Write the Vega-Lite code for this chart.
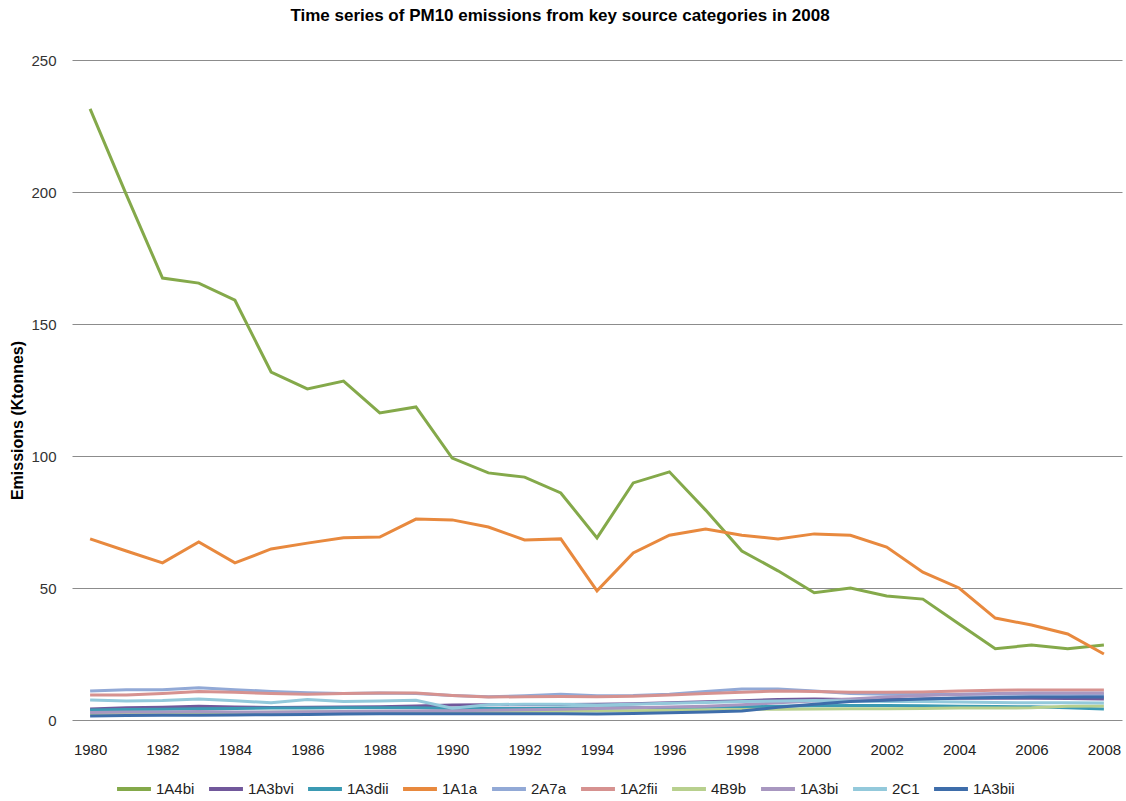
{
"$schema": "https://vega.github.io/schema/vega-lite/v6.json",
"width": 1050, "height": 660,
"autosize": {"type": "none"},
"padding": {"left": 72, "top": 60, "right": 4, "bottom": 81},
"background": "white",
"title": {"text": "Time series of PM10 emissions from key source categories in 2008", "font": "Liberation Sans", "fontSize": 17, "fontWeight": "bold", "color": "#000000", "anchor": "middle", "dx": -37, "offset": 28},
"config": {"view": {"stroke": null}, "font": "Liberation Sans"},
"datasets": {
"rows": [
{"s":"1A4bi","y":1980,"v":231.5},{"s":"1A4bi","y":1981,"v":199},{"s":"1A4bi","y":1982,"v":167.4},{"s":"1A4bi","y":1983,"v":165.5},{"s":"1A4bi","y":1984,"v":159},{"s":"1A4bi","y":1985,"v":131.8},{"s":"1A4bi","y":1986,"v":125.4},{"s":"1A4bi","y":1987,"v":128.4},{"s":"1A4bi","y":1988,"v":116.3},{"s":"1A4bi","y":1989,"v":118.6},{"s":"1A4bi","y":1990,"v":99.2},{"s":"1A4bi","y":1991,"v":93.6},{"s":"1A4bi","y":1992,"v":92},{"s":"1A4bi","y":1993,"v":86},{"s":"1A4bi","y":1994,"v":69},{"s":"1A4bi","y":1995,"v":89.8},{"s":"1A4bi","y":1996,"v":94},{"s":"1A4bi","y":1997,"v":79.5},{"s":"1A4bi","y":1998,"v":64},{"s":"1A4bi","y":1999,"v":56.5},{"s":"1A4bi","y":2000,"v":48.2},{"s":"1A4bi","y":2001,"v":50},{"s":"1A4bi","y":2002,"v":47},{"s":"1A4bi","y":2003,"v":45.8},{"s":"1A4bi","y":2004,"v":36.4},{"s":"1A4bi","y":2005,"v":27},{"s":"1A4bi","y":2006,"v":28.4},{"s":"1A4bi","y":2007,"v":27},{"s":"1A4bi","y":2008,"v":28.4},
{"s":"1A3bvi","y":1980,"v":4.2},{"s":"1A3bvi","y":1981,"v":4.6},{"s":"1A3bvi","y":1982,"v":4.8},{"s":"1A3bvi","y":1983,"v":5.2},{"s":"1A3bvi","y":1984,"v":4.9},{"s":"1A3bvi","y":1985,"v":4.7},{"s":"1A3bvi","y":1986,"v":4.8},{"s":"1A3bvi","y":1987,"v":4.9},{"s":"1A3bvi","y":1988,"v":5},{"s":"1A3bvi","y":1989,"v":5.3},{"s":"1A3bvi","y":1990,"v":5.7},{"s":"1A3bvi","y":1991,"v":5.8},{"s":"1A3bvi","y":1992,"v":5.8},{"s":"1A3bvi","y":1993,"v":5.9},{"s":"1A3bvi","y":1994,"v":6},{"s":"1A3bvi","y":1995,"v":6.2},{"s":"1A3bvi","y":1996,"v":6.5},{"s":"1A3bvi","y":1997,"v":6.9},{"s":"1A3bvi","y":1998,"v":7.3},{"s":"1A3bvi","y":1999,"v":7.8},{"s":"1A3bvi","y":2000,"v":8},{"s":"1A3bvi","y":2001,"v":7.8},{"s":"1A3bvi","y":2002,"v":7.8},{"s":"1A3bvi","y":2003,"v":8},{"s":"1A3bvi","y":2004,"v":8.2},{"s":"1A3bvi","y":2005,"v":8.2},{"s":"1A3bvi","y":2006,"v":8.2},{"s":"1A3bvi","y":2007,"v":8.1},{"s":"1A3bvi","y":2008,"v":8},
{"s":"1A3dii","y":1980,"v":3.8},{"s":"1A3dii","y":1981,"v":4},{"s":"1A3dii","y":1982,"v":4.1},{"s":"1A3dii","y":1983,"v":4.3},{"s":"1A3dii","y":1984,"v":4.4},{"s":"1A3dii","y":1985,"v":4.5},{"s":"1A3dii","y":1986,"v":4.5},{"s":"1A3dii","y":1987,"v":4.6},{"s":"1A3dii","y":1988,"v":4.6},{"s":"1A3dii","y":1989,"v":4.6},{"s":"1A3dii","y":1990,"v":4.4},{"s":"1A3dii","y":1991,"v":4.4},{"s":"1A3dii","y":1992,"v":4.4},{"s":"1A3dii","y":1993,"v":4.5},{"s":"1A3dii","y":1994,"v":4.5},{"s":"1A3dii","y":1995,"v":4.6},{"s":"1A3dii","y":1996,"v":4.7},{"s":"1A3dii","y":1997,"v":4.8},{"s":"1A3dii","y":1998,"v":5},{"s":"1A3dii","y":1999,"v":5.2},{"s":"1A3dii","y":2000,"v":5.4},{"s":"1A3dii","y":2001,"v":5.5},{"s":"1A3dii","y":2002,"v":5.5},{"s":"1A3dii","y":2003,"v":5.4},{"s":"1A3dii","y":2004,"v":5.2},{"s":"1A3dii","y":2005,"v":5.1},{"s":"1A3dii","y":2006,"v":5},{"s":"1A3dii","y":2007,"v":4.6},{"s":"1A3dii","y":2008,"v":4.2},
{"s":"1A1a","y":1980,"v":68.6},{"s":"1A1a","y":1981,"v":64},{"s":"1A1a","y":1982,"v":59.5},{"s":"1A1a","y":1983,"v":67.4},{"s":"1A1a","y":1984,"v":59.5},{"s":"1A1a","y":1985,"v":64.8},{"s":"1A1a","y":1986,"v":67},{"s":"1A1a","y":1987,"v":69},{"s":"1A1a","y":1988,"v":69.3},{"s":"1A1a","y":1989,"v":76.1},{"s":"1A1a","y":1990,"v":75.8},{"s":"1A1a","y":1991,"v":73.1},{"s":"1A1a","y":1992,"v":68.2},{"s":"1A1a","y":1993,"v":68.6},{"s":"1A1a","y":1994,"v":48.9},{"s":"1A1a","y":1995,"v":63.3},{"s":"1A1a","y":1996,"v":70},{"s":"1A1a","y":1997,"v":72.3},{"s":"1A1a","y":1998,"v":70},{"s":"1A1a","y":1999,"v":68.6},{"s":"1A1a","y":2000,"v":70.5},{"s":"1A1a","y":2001,"v":70},{"s":"1A1a","y":2002,"v":65.5},{"s":"1A1a","y":2003,"v":56},{"s":"1A1a","y":2004,"v":50},{"s":"1A1a","y":2005,"v":38.6},{"s":"1A1a","y":2006,"v":36},{"s":"1A1a","y":2007,"v":32.6},{"s":"1A1a","y":2008,"v":25},
{"s":"2A7a","y":1980,"v":11},{"s":"2A7a","y":1981,"v":11.5},{"s":"2A7a","y":1982,"v":11.5},{"s":"2A7a","y":1983,"v":12.2},{"s":"2A7a","y":1984,"v":11.5},{"s":"2A7a","y":1985,"v":10.8},{"s":"2A7a","y":1986,"v":10.3},{"s":"2A7a","y":1987,"v":10},{"s":"2A7a","y":1988,"v":10.2},{"s":"2A7a","y":1989,"v":10},{"s":"2A7a","y":1990,"v":9.3},{"s":"2A7a","y":1991,"v":8.8},{"s":"2A7a","y":1992,"v":9.2},{"s":"2A7a","y":1993,"v":9.8},{"s":"2A7a","y":1994,"v":9.2},{"s":"2A7a","y":1995,"v":9.3},{"s":"2A7a","y":1996,"v":9.8},{"s":"2A7a","y":1997,"v":10.8},{"s":"2A7a","y":1998,"v":11.7},{"s":"2A7a","y":1999,"v":11.7},{"s":"2A7a","y":2000,"v":11},{"s":"2A7a","y":2001,"v":10},{"s":"2A7a","y":2002,"v":9.8},{"s":"2A7a","y":2003,"v":9.8},{"s":"2A7a","y":2004,"v":9.8},{"s":"2A7a","y":2005,"v":9.8},{"s":"2A7a","y":2006,"v":9.8},{"s":"2A7a","y":2007,"v":9.8},{"s":"2A7a","y":2008,"v":9.6},
{"s":"1A2fii","y":1980,"v":9.5},{"s":"1A2fii","y":1981,"v":9.5},{"s":"1A2fii","y":1982,"v":10},{"s":"1A2fii","y":1983,"v":10.8},{"s":"1A2fii","y":1984,"v":10.5},{"s":"1A2fii","y":1985,"v":10},{"s":"1A2fii","y":1986,"v":9.8},{"s":"1A2fii","y":1987,"v":10},{"s":"1A2fii","y":1988,"v":10.2},{"s":"1A2fii","y":1989,"v":10.2},{"s":"1A2fii","y":1990,"v":9.3},{"s":"1A2fii","y":1991,"v":8.7},{"s":"1A2fii","y":1992,"v":8.8},{"s":"1A2fii","y":1993,"v":8.9},{"s":"1A2fii","y":1994,"v":8.8},{"s":"1A2fii","y":1995,"v":9},{"s":"1A2fii","y":1996,"v":9.5},{"s":"1A2fii","y":1997,"v":10},{"s":"1A2fii","y":1998,"v":10.5},{"s":"1A2fii","y":1999,"v":11},{"s":"1A2fii","y":2000,"v":10.8},{"s":"1A2fii","y":2001,"v":10.5},{"s":"1A2fii","y":2002,"v":10.5},{"s":"1A2fii","y":2003,"v":10.6},{"s":"1A2fii","y":2004,"v":11},{"s":"1A2fii","y":2005,"v":11.3},{"s":"1A2fii","y":2006,"v":11.4},{"s":"1A2fii","y":2007,"v":11.4},{"s":"1A2fii","y":2008,"v":11.4},
{"s":"4B9b","y":1980,"v":2.5},{"s":"4B9b","y":1981,"v":2.6},{"s":"4B9b","y":1982,"v":2.7},{"s":"4B9b","y":1983,"v":2.8},{"s":"4B9b","y":1984,"v":2.8},{"s":"4B9b","y":1985,"v":2.9},{"s":"4B9b","y":1986,"v":3},{"s":"4B9b","y":1987,"v":3},{"s":"4B9b","y":1988,"v":3.1},{"s":"4B9b","y":1989,"v":3.1},{"s":"4B9b","y":1990,"v":3.1},{"s":"4B9b","y":1991,"v":3.2},{"s":"4B9b","y":1992,"v":3.2},{"s":"4B9b","y":1993,"v":3.3},{"s":"4B9b","y":1994,"v":3.4},{"s":"4B9b","y":1995,"v":3.5},{"s":"4B9b","y":1996,"v":3.7},{"s":"4B9b","y":1997,"v":3.8},{"s":"4B9b","y":1998,"v":4},{"s":"4B9b","y":1999,"v":4.1},{"s":"4B9b","y":2000,"v":4.2},{"s":"4B9b","y":2001,"v":4.3},{"s":"4B9b","y":2002,"v":4.3},{"s":"4B9b","y":2003,"v":4.4},{"s":"4B9b","y":2004,"v":4.5},{"s":"4B9b","y":2005,"v":4.5},{"s":"4B9b","y":2006,"v":4.6},{"s":"4B9b","y":2007,"v":5.2},{"s":"4B9b","y":2008,"v":5.3},
{"s":"1A3bi","y":1980,"v":2.8},{"s":"1A3bi","y":1981,"v":3},{"s":"1A3bi","y":1982,"v":3},{"s":"1A3bi","y":1983,"v":3.2},{"s":"1A3bi","y":1984,"v":3},{"s":"1A3bi","y":1985,"v":3},{"s":"1A3bi","y":1986,"v":3.1},{"s":"1A3bi","y":1987,"v":3.2},{"s":"1A3bi","y":1988,"v":3.3},{"s":"1A3bi","y":1989,"v":3.4},{"s":"1A3bi","y":1990,"v":3.5},{"s":"1A3bi","y":1991,"v":3.7},{"s":"1A3bi","y":1992,"v":3.9},{"s":"1A3bi","y":1993,"v":4.1},{"s":"1A3bi","y":1994,"v":4.4},{"s":"1A3bi","y":1995,"v":4.6},{"s":"1A3bi","y":1996,"v":4.9},{"s":"1A3bi","y":1997,"v":5.2},{"s":"1A3bi","y":1998,"v":5.8},{"s":"1A3bi","y":1999,"v":6.5},{"s":"1A3bi","y":2000,"v":7.2},{"s":"1A3bi","y":2001,"v":8},{"s":"1A3bi","y":2002,"v":8.7},{"s":"1A3bi","y":2003,"v":9.3},{"s":"1A3bi","y":2004,"v":9.7},{"s":"1A3bi","y":2005,"v":10},{"s":"1A3bi","y":2006,"v":10.2},{"s":"1A3bi","y":2007,"v":10.2},{"s":"1A3bi","y":2008,"v":10.2},
{"s":"2C1","y":1980,"v":7.6},{"s":"2C1","y":1981,"v":7.2},{"s":"2C1","y":1982,"v":7.4},{"s":"2C1","y":1983,"v":8},{"s":"2C1","y":1984,"v":7.3},{"s":"2C1","y":1985,"v":6.5},{"s":"2C1","y":1986,"v":7.8},{"s":"2C1","y":1987,"v":7},{"s":"2C1","y":1988,"v":7.2},{"s":"2C1","y":1989,"v":7.5},{"s":"2C1","y":1990,"v":4.5},{"s":"2C1","y":1991,"v":5.8},{"s":"2C1","y":1992,"v":6},{"s":"2C1","y":1993,"v":6},{"s":"2C1","y":1994,"v":5.7},{"s":"2C1","y":1995,"v":6},{"s":"2C1","y":1996,"v":6.3},{"s":"2C1","y":1997,"v":6.6},{"s":"2C1","y":1998,"v":7},{"s":"2C1","y":1999,"v":7.2},{"s":"2C1","y":2000,"v":7.4},{"s":"2C1","y":2001,"v":7.2},{"s":"2C1","y":2002,"v":7},{"s":"2C1","y":2003,"v":7},{"s":"2C1","y":2004,"v":6.8},{"s":"2C1","y":2005,"v":6.6},{"s":"2C1","y":2006,"v":6.5},{"s":"2C1","y":2007,"v":6.5},{"s":"2C1","y":2008,"v":6.4},
{"s":"1A3bii","y":1980,"v":1.5},{"s":"1A3bii","y":1981,"v":1.7},{"s":"1A3bii","y":1982,"v":1.8},{"s":"1A3bii","y":1983,"v":1.8},{"s":"1A3bii","y":1984,"v":1.9},{"s":"1A3bii","y":1985,"v":2},{"s":"1A3bii","y":1986,"v":2.1},{"s":"1A3bii","y":1987,"v":2.3},{"s":"1A3bii","y":1988,"v":2.4},{"s":"1A3bii","y":1989,"v":2.4},{"s":"1A3bii","y":1990,"v":2.4},{"s":"1A3bii","y":1991,"v":2.4},{"s":"1A3bii","y":1992,"v":2.4},{"s":"1A3bii","y":1993,"v":2.4},{"s":"1A3bii","y":1994,"v":2.3},{"s":"1A3bii","y":1995,"v":2.5},{"s":"1A3bii","y":1996,"v":2.7},{"s":"1A3bii","y":1997,"v":3},{"s":"1A3bii","y":1998,"v":3.4},{"s":"1A3bii","y":1999,"v":4.8},{"s":"1A3bii","y":2000,"v":6},{"s":"1A3bii","y":2001,"v":7},{"s":"1A3bii","y":2002,"v":7.5},{"s":"1A3bii","y":2003,"v":8},{"s":"1A3bii","y":2004,"v":8.3},{"s":"1A3bii","y":2005,"v":8.5},{"s":"1A3bii","y":2006,"v":8.7},{"s":"1A3bii","y":2007,"v":8.7},{"s":"1A3bii","y":2008,"v":8.7}
]
},
"data": {"name": "rows"},
"mark": {"type": "line", "strokeWidth": 3, "clip": false},
"encoding": {
 "x": {"field": "y", "type": "quantitative",
  "scale": {"domain": [1979.5, 2008.5], "nice": false, "zero": false},
  "axis": {"values": [1980,1982,1984,1986,1988,1990,1992,1994,1996,1998,2000,2002,2004,2006,2008], "format": "d", "grid": false, "ticks": false, "domain": false, "labelPadding": 22, "labelFontSize": 15, "labelColor": "#222222", "labelFont": "Liberation Sans", "title": null}},
 "y": {"field": "v", "type": "quantitative",
  "scale": {"domain": [0, 250], "nice": false},
  "axis": {"values": [0,50,100,150,200,250], "grid": true, "gridColor": "#8c8c8c", "gridWidth": 1, "domain": false, "ticks": false, "labelPadding": 16, "labelFontSize": 15, "labelColor": "#333333", "labelFont": "Liberation Sans",
   "title": "Emissions (Ktonnes)", "titleFont": "Liberation Sans", "titleFontSize": 16, "titleFontWeight": "bold", "titleColor": "#000000", "titleAngle": -90, "titleBaseline": "middle", "titleAlign": "center", "titleX": -55, "titleY": 360}},
 "color": {"field": "s", "type": "nominal",
  "scale": {"domain": ["1A4bi","1A3bvi","1A3dii","1A1a","2A7a","1A2fii","4B9b","1A3bi","2C1","1A3bii"],
   "range": ["#84A94A","#71589B","#3B9AB3","#E8893E","#92A9D6","#D69290","#B8D08E","#A897C0","#93C9DB","#3E6DAA"]},
  "legend": {"title": null, "orient": "none", "legendX": 43, "legendY": 710, "direction": "horizontal", "columns": 10, "symbolType": "stroke", "symbolSize": 1150, "symbolStrokeWidth": 4, "labelFontSize": 15, "labelFont": "Liberation Sans", "labelColor": "#222222", "labelOffset": 3, "columnPadding": 6, "padding": 0}}
}
}
